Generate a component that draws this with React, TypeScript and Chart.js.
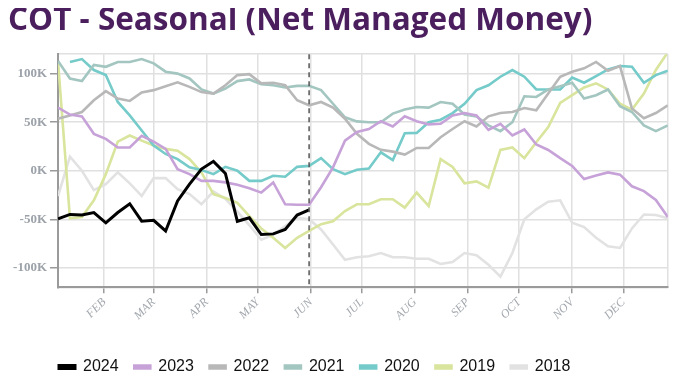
import { useEffect, useRef } from 'react';
import { Chart, registerables } from 'chart.js';

Chart.register(...registerables);

// Week positions (day of year, 0 = Jan 1)
const WEEK_DAYS = [4, 11, 18, 25, 32, 39, 46, 53, 60, 67, 74, 81, 88, 95, 102, 109, 116, 123, 130, 137, 144, 151, 158, 165, 172, 179, 186, 193, 200, 207, 214, 221, 228, 235, 242, 249, 256, 263, 270, 277, 284, 291, 298, 305, 312, 319, 326, 333, 340, 347, 354, 361];
const MONTH_DAYS = [31, 60, 91, 121, 152, 182, 213, 244, 274, 305, 335];
const MONTH_LABELS = ['FEB', 'MAR', 'APR', 'MAY', 'JUN', 'JUL', 'AUG', 'SEP', 'OCT', 'NOV', 'DEC'];
const Y_TICKS = [-100, -50, 0, 50, 100];
const SERIES_NAMES = ['2024', '2023', '2022', '2021', '2020', '2019', '2018'];

// Net managed money, thousands of contracts
const S2024 = [-49.5, -45, -45.6, -43, -53.6, -43, -34, -51.9, -51, -62, -31, -13.8, 1.7, 9.7, -2.8, -52, -48.4, -65.7, -65, -60.5, -45.6, -40.4];
const S2023 = [65, 57.8, 56, 38, 32.8, 24, 24, 36, 30, 22.5, 1.7, -3.5, -10.4, -10.4, -12, -14.5, -18, -22.5, -12, -34.5, -35, -35, -17, 3.5, 31, 40, 43, 51, 45.6, 56, 51, 47.7, 48.4, 57, 59.4, 57, 42, 48.4, 36.3, 42.5, 27, 21.4, 13, 5, -8.6, -5, -1.7, -4, -16, -21, -30, -47.7];
const S2022 = [53.6, 57, 60.5, 72.6, 82, 74.3, 71.9, 80.6, 83, 87, 91, 86.4, 81, 79.5, 88, 98.5, 99.5, 90, 90.6, 88, 72.6, 67.4, 70.8, 65, 53.6, 38, 27.7, 21.5, 19.7, 16.6, 23.5, 23.5, 34.5, 43, 51, 45.6, 56, 59.4, 60.5, 64.6, 62.2, 79.5, 96.8, 102, 105.5, 112, 103, 107.8, 64, 54, 59.4, 67.4];
const S2021 = [113, 95, 92.3, 109, 107, 112, 112, 115, 110.6, 102, 100, 95, 83.7, 79.5, 84.7, 92.3, 94, 89, 88, 85.7, 87.4, 87.4, 83, 69, 55, 50.8, 50, 50, 58.8, 63, 65.7, 65, 70.8, 69, 58, 56, 46.7, 40.8, 50, 76.7, 76, 83.7, 87, 90.6, 74.3, 77.8, 83.7, 66.4, 60.5, 46.7, 40.8, 46.7];
const S2020 = [null, 112, 115, 103.7, 98.5, 70.8, 57, 41.5, 26, 17.3, 12, 3.5, 0.7, -3.5, 4, 0, -10.4, -10.4, -5.2, -6.2, 4, 5, 13, 1.7, -3.5, 1, 2.4, 19, 11, 38.7, 39, 50, 52.6, 59.4, 69, 83, 88, 96.8, 103.7, 96.8, 83.7, 83.7, 83.7, 96, 90.6, 97.5, 104.4, 107.8, 107, 90.6, 98.5, 103];
const S2019 = [113, -49, -47.7, -30.4, -3.5, 30, 36.3, 31, 26, 22.5, 20.7, 12, -1.7, -24, -28, -33, -46.7, -59.4, -69, -79.5, -69, -62, -55, -52, -41.5, -34.5, -34.5, -29.4, -29.4, -38, -22.5, -36.3, 12, 4, -13, -11, -17.5, 21.4, 24, 13, 29.4, 45, 69.8, 77.8, 85.7, 90, 83.7, 69, 63, 79.5, 103.7, 122];
const S2018 = [-26, 14.5, 0, -20, -13.8, -1.7, -13, -26, -7.6, -7.6, -19, -24, -34.5, -21.4, -29, -42, -56, -71, -66, -57, -48.4, -50, -60.5, -76, -91.6, -89, -88, -84.7, -89, -89, -90.6, -90.6, -96, -94, -84.7, -87, -96.8, -109, -84.7, -50, -39.7, -31.8, -30.4, -53.6, -58, -69, -77.8, -79.5, -59.4, -45, -45.6, -49];

const SERIES = [S2024, S2023, S2022, S2021, S2020, S2019, S2018];
const COLORS = ['#000000', '#c6a2d8', '#b8b8b8', '#a3c6c0', '#74cbc9', '#d9e49c', '#e2e2e2'];
const WIDTHS = [3, 2.6, 2.6, 2.6, 2.6, 2.6, 2.6];

const X_MIN = WEEK_DAYS[0];
const X_MAX = WEEK_DAYS[WEEK_DAYS.length - 1];
const Y_MIN = -120;
const Y_MAX = 120;

const LEGEND_X = 51;
const LEGEND_CY = 359;

const customPlugin = {
  id: 'customLayout',
  afterLayout(chart: any) {
    const lg = chart.legend;
    if (lg) {
      const pad = lg.options.labels.padding;
      const fs = lg.options.labels.font.size;
      const dx = LEGEND_X - (lg.left + pad);
      lg.left += dx;
      lg.right += dx;
      const dy = LEGEND_CY - (lg.top + pad + fs / 2);
      lg.top += dy;
      lg.bottom += dy;
    }
  },
  afterDatasetsDraw(chart: any) {
    const { ctx, chartArea, scales } = chart;
    const x = scales.x.getPixelForValue(WEEK_DAYS[S2024.length - 1]);
    ctx.save();
    ctx.strokeStyle = '#555555';
    ctx.lineWidth = 1.5;
    ctx.setLineDash([5, 4]);
    ctx.beginPath();
    ctx.moveTo(x, chartArea.top);
    ctx.lineTo(x, chartArea.bottom);
    ctx.stroke();
    ctx.restore();
  },
};

export default function App() {
  const ref = useRef<HTMLCanvasElement | null>(null);

  useEffect(() => {
    if (!ref.current) return;
    const datasets = SERIES.map((s, k) => ({
      label: SERIES_NAMES[k],
      data: s.map((v, i) => ({ x: WEEK_DAYS[i], y: v })),
      borderColor: COLORS[k],
      backgroundColor: COLORS[k],
      borderWidth: WIDTHS[k],
      pointRadius: 0,
      tension: 0,
      spanGaps: false,
    }));

    const chart = new Chart(ref.current, {
      type: 'line',
      data: { datasets },
      plugins: [customPlugin],
      options: {
        animation: false,
        responsive: true,
        maintainAspectRatio: false,
        layout: { padding: { left: 0, right: 5, top: 0, bottom: 0 } },
        plugins: {
          title: {
            display: true,
            text: 'COT - Seasonal (Net Managed Money)',
            align: 'start',
            color: '#4b1f5e',
            font: { family: "'Open Sans', sans-serif", size: 31.5, weight: 'bold', lineHeight: 0.8 },
            padding: { top: 0, bottom: 21 },
          },
          legend: {
            display: true,
            position: 'bottom',
            align: 'start',
            labels: {
              boxWidth: 16,
              boxHeight: 3,
              padding: 15.7,
              color: '#111111',
              font: { family: "'Liberation Sans', Arial, sans-serif", size: 16 },
            },
          },
          tooltip: { enabled: false },
        },
        scales: {
          x: {
            type: 'linear',
            min: X_MIN,
            max: X_MAX,
            afterBuildTicks: (scale: any) => {
              scale.ticks = [...MONTH_DAYS.map((v) => ({ value: v })), { value: X_MAX }];
            },
            afterFit: (scale: any) => {
              scale.height = 45;
            },
            ticks: {
              autoSkip: false,
              minRotation: 45,
              maxRotation: 45,
              padding: 2,
              color: '#a3a8ae',
              font: { family: "'Liberation Serif', serif", size: 12, style: 'italic' },
              callback: (v: any) => {
                const idx = MONTH_DAYS.indexOf(Number(v));
                return idx >= 0 ? MONTH_LABELS[idx] : '';
              },
            },
            grid: {
              color: '#e0e0e0',
              lineWidth: 1.5,
              tickLength: 6,
              tickColor: (ctx: any) => (ctx.tick && ctx.tick.value === X_MAX ? 'rgba(0,0,0,0)' : '#9a9a9a'),
            },
            border: { color: '#9a9a9a', width: 2 },
          },
          y: {
            type: 'linear',
            min: Y_MIN,
            max: Y_MAX,
            afterBuildTicks: (scale: any) => {
              scale.ticks = [Y_MIN, ...Y_TICKS, Y_MAX].map((v) => ({ value: v }));
            },
            afterFit: (scale: any) => {
              scale.width = 50;
            },
            ticks: {
              padding: 3,
              color: '#9ca2a9',
              font: { family: "'Liberation Serif', serif", size: 13, weight: 'bold' },
              callback: (v: any) => (Math.abs(Number(v)) === 120 ? '' : `${v}K`),
            },
            grid: {
              color: '#e0e0e0',
              lineWidth: 1.5,
              tickLength: 8,
              tickColor: (ctx: any) => (ctx.tick && Math.abs(ctx.tick.value) === 120 ? 'rgba(0,0,0,0)' : '#9a9a9a'),
            },
            border: { color: '#9a9a9a', width: 2 },
          },
        },
      },
    } as any);

    return () => chart.destroy();
  }, []);

  return (
    <div style={{ width: 672, height: 366, position: 'relative' }}>
      <canvas ref={ref} />
    </div>
  );
}
